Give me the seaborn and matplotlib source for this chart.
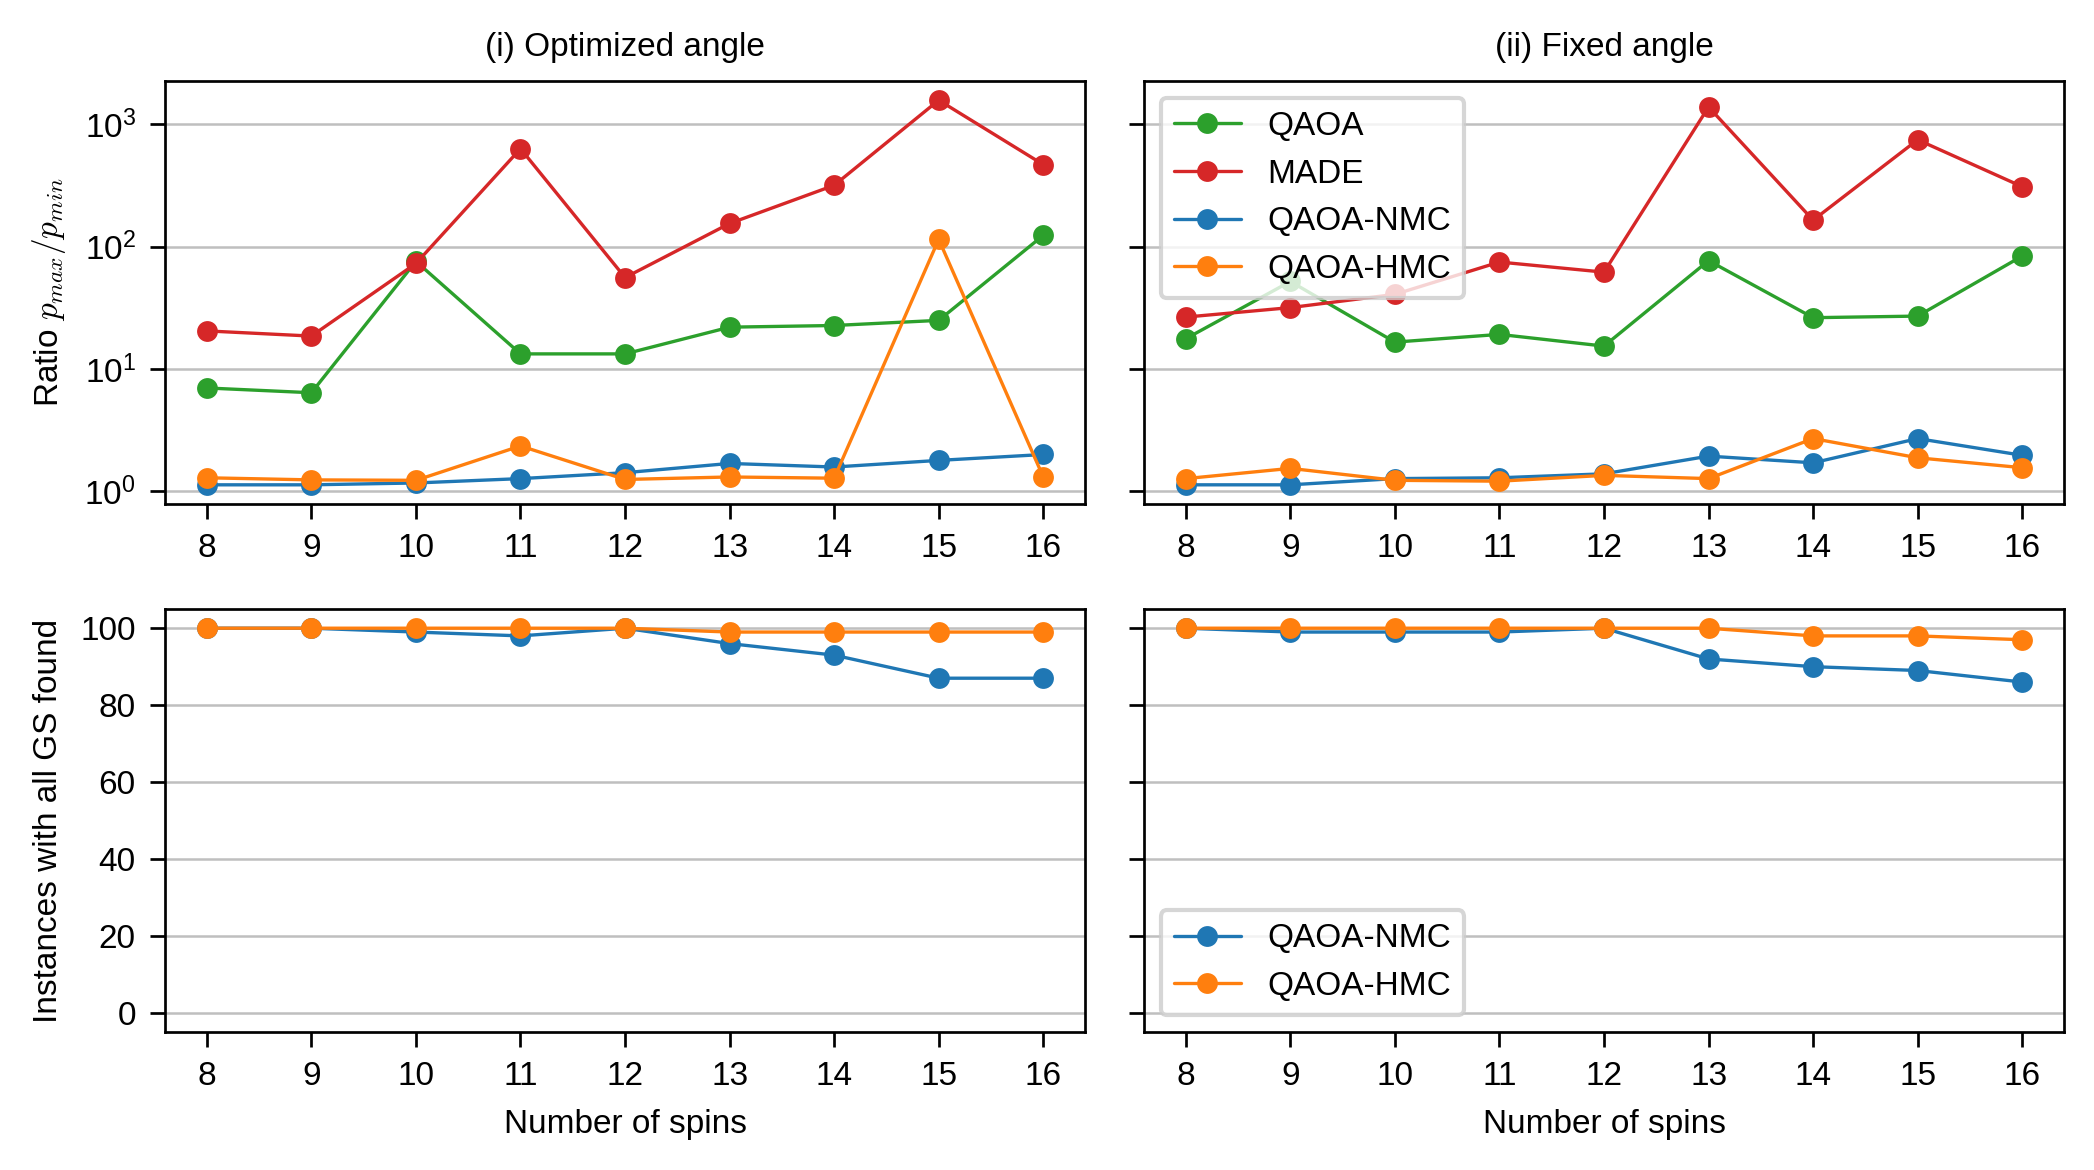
import matplotlib
matplotlib.use("Agg")
import matplotlib.pyplot as plt
from matplotlib.ticker import NullLocator
import seaborn as sns

# data
spins = [8, 9, 10, 11, 12, 13, 14, 15, 16]

# ratio p_max / p_min, optimized angle
opt_qaoa = [7.0, 6.4, 76, 13.3, 13.3, 22, 22.7, 25, 124]
opt_made = [20.5, 18.6, 73, 634, 56, 155, 318, 1580, 470]
opt_nmc = [1.13, 1.13, 1.17, 1.27, 1.42, 1.69, 1.58, 1.79, 2.0]
opt_hmc = [1.29, 1.24, 1.23, 2.35, 1.25, 1.31, 1.28, 115, 1.31]

# ratio p_max / p_min, fixed angle
fix_qaoa = [17.7, 52, 16.6, 19.2, 15.4, 77, 26.3, 27.1, 84]
fix_made = [26.6, 31.8, 40.8, 75, 62, 1390, 165, 750, 310]
fix_nmc = [1.13, 1.13, 1.27, 1.29, 1.39, 1.94, 1.71, 2.7, 1.97]
fix_hmc = [1.27, 1.54, 1.23, 1.21, 1.35, 1.27, 2.7, 1.88, 1.56]

# instances with all ground states found
opt_nmc_gs = [100, 100, 99, 98, 100, 96, 93, 87, 87]
opt_hmc_gs = [100, 100, 100, 100, 100, 99, 99, 99, 99]
fix_nmc_gs = [100, 99, 99, 99, 100, 92, 90, 89, 86]
fix_hmc_gs = [100, 100, 100, 100, 100, 100, 98, 98, 97]

colors = {"QAOA": "tab:green", "MADE": "tab:red",
          "QAOA-NMC": "tab:blue", "QAOA-HMC": "tab:orange"}

sns.set_theme(style="ticks")
plt.rcParams["font.family"] = ["Liberation Sans", "DejaVu Sans"]
plt.rcParams["mathtext.fontset"] = "cm"
plt.rcParams["font.size"] = 8
plt.rcParams["axes.linewidth"] = 0.65
plt.rcParams["xtick.major.width"] = 0.65
plt.rcParams["ytick.major.width"] = 0.65
plt.rcParams["xtick.major.size"] = 3.5
plt.rcParams["ytick.major.size"] = 3.5
plt.rcParams["xtick.labelsize"] = 8
plt.rcParams["ytick.labelsize"] = 8
plt.rcParams["axes.labelsize"] = 8
plt.rcParams["axes.titlesize"] = 8
plt.rcParams["axes.edgecolor"] = "black"
plt.rcParams["xtick.color"] = "black"
plt.rcParams["ytick.color"] = "black"
plt.rcParams["text.color"] = "black"
plt.rcParams["axes.labelcolor"] = "black"

fig, axes = plt.subplots(2, 2, figsize=(6.98, 3.9), dpi=300, sharey="row")
fig.subplots_adjust(left=0.0788, right=0.9857, top=0.9308, bottom=0.1179,
                    wspace=0.064, hspace=0.248)


def draw(ax, series):
    for name, vals in series:
        sns.lineplot(x=spins, y=vals, ax=ax, color=colors[name], label=name,
                     marker="o", markersize=5, markeredgewidth=0, linewidth=0.8)


draw(axes[0, 0], [("QAOA", opt_qaoa), ("MADE", opt_made),
                  ("QAOA-NMC", opt_nmc), ("QAOA-HMC", opt_hmc)])
draw(axes[0, 1], [("QAOA", fix_qaoa), ("MADE", fix_made),
                  ("QAOA-NMC", fix_nmc), ("QAOA-HMC", fix_hmc)])
draw(axes[1, 0], [("QAOA-NMC", opt_nmc_gs), ("QAOA-HMC", opt_hmc_gs)])
draw(axes[1, 1], [("QAOA-NMC", fix_nmc_gs), ("QAOA-HMC", fix_hmc_gs)])

axes[0, 0].set_yscale("log")
axes[0, 0].yaxis.set_minor_locator(NullLocator())
axes[1, 0].set_ylim(-5, 105)
axes[1, 0].set_yticks([0, 20, 40, 60, 80, 100])

for ax in axes.flat:
    ax.set_xticks(spins)
    ax.grid(axis="y", color="#bfbfbf", linewidth=0.6)
    ax.set_axisbelow(True)
    ax.set_xlabel("")
    leg = ax.get_legend()
    if leg is not None:
        leg.remove()

axes[0, 0].set_title("(i) Optimized angle")
axes[0, 1].set_title("(ii) Fixed angle")
axes[0, 0].set_ylabel(r"Ratio $p_{max}/p_{min}$")
axes[1, 0].set_ylabel("Instances with all GS found")
axes[1, 0].set_xlabel("Number of spins")
axes[1, 1].set_xlabel("Number of spins")

axes[0, 1].legend(loc="upper left", fontsize=8)
axes[1, 1].legend(loc="lower left", fontsize=8)

fig.savefig("out.png", dpi=300)
